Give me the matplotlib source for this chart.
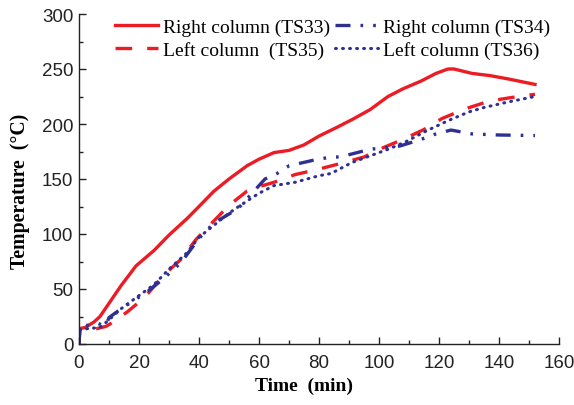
import matplotlib
matplotlib.use("Agg")
import matplotlib.pyplot as plt
from matplotlib.ticker import MultipleLocator

RED = "#ED1C24"
BLUE = "#2E3192"

# right column, TS33
t33 = [0, 0.3, 2, 5, 7, 10, 14, 19, 25, 30, 36, 40, 45, 50, 56, 60, 65, 70, 75, 80,
       86, 91, 97, 103, 108, 114, 119, 123, 125, 131, 137, 143, 152]
T33 = [0, 14, 15, 20, 25, 37, 53, 71, 85, 99, 114, 125, 139, 150, 162, 168, 174, 176, 181, 189,
       197, 204, 213, 225, 232, 239, 246, 250, 250, 246, 244, 241, 236]

# right column, TS34
t34 = [0, 0.3, 3, 6, 8, 9, 10, 12, 14, 18, 23, 28, 34, 37, 40, 45, 53, 59, 62, 66,
       70, 78, 84, 87, 97, 107, 114, 119, 124, 131, 140, 152]
T34 = [0, 17, 17, 19, 17, 17, 24, 28, 32, 39, 48, 59, 74, 85, 96, 110, 123, 141, 150, 155,
       162, 167, 170, 170, 177, 180, 186, 191, 194.5, 191, 190, 189.5]

# left column, TS35
t35 = [0, 0.3, 3, 6, 9, 12, 16, 20, 23, 28, 34, 39, 45, 50, 56, 60, 65, 72, 80, 87,
       95, 101, 108, 115, 121, 129, 137, 144, 152]
T35 = [0, 14, 14, 14, 16, 21, 29, 38, 46, 62, 77, 95, 112, 126, 139, 143, 147, 154, 159, 164,
       170, 178, 186, 195, 205, 214, 221, 224, 227]

# left column, TS36
t36 = [0, 0.3, 3, 7, 10, 14, 19, 25, 30, 36, 40, 45, 50, 56, 60, 65, 72, 80, 84, 91,
       97, 103, 109, 116, 123, 130, 135, 143, 152]
T36 = [0, 13, 14, 15, 22, 32, 42, 54, 68, 83, 97, 108, 119, 130, 137, 144, 147, 153, 155, 165,
       171, 177, 184, 194, 203, 211, 215, 220, 225]

SERIF = "Liberation Serif"
SANS = "Liberation Sans"

fig = plt.figure(figsize=(5.74, 4.06), dpi=100)
ax = fig.add_axes([79/574, 61/406, 480/574, 330/406])

ax.plot(t33, T33, color=RED, lw=2.4, label="Right column (TS33)")
ax.plot(t35, T35, color=RED, lw=2.4, dashes=(5, 4.5), label="Left column  (TS35)")
ax.plot(t34, T34, color=BLUE, lw=2.4, dashes=(4.5, 3, 0.8, 3, 0.8, 3),
        label="Right column (TS34)")
ax.plot(t36, T36, color=BLUE, lw=2.2, dashes=(0.3, 2.0), dash_capstyle="round",
        label="Left column (TS36)")

ax.set_xlim(0, 160)
ax.set_ylim(0, 300)
ax.xaxis.set_major_locator(MultipleLocator(20))
ax.xaxis.set_minor_locator(MultipleLocator(10))
ax.yaxis.set_major_locator(MultipleLocator(50))
ax.yaxis.set_minor_locator(MultipleLocator(25))
ax.tick_params(which="both", direction="in", width=1, colors="#222222")
ax.tick_params(which="major", length=5, labelsize=13.5)
ax.tick_params(axis="x", which="major", pad=7)
ax.tick_params(axis="y", which="major", pad=4)
ax.tick_params(which="minor", length=3)
for lab in ax.get_xticklabels() + ax.get_yticklabels():
    lab.set_fontfamily(SANS)
for s in ("top", "right"):
    ax.spines[s].set_visible(False)
for s in ("left", "bottom"):
    ax.spines[s].set_color("#222222")
    ax.spines[s].set_linewidth(1)

ax.set_xlabel("Time  (min)", fontfamily=SERIF, fontweight="bold", fontsize=14)
ax.set_ylabel("Temperature  (\u00b0C)", fontfamily=SERIF, fontweight="bold", fontsize=14.2)
ax.xaxis.set_label_coords(0.468, -0.10)
ax.yaxis.set_label_coords(-0.102, 0.467)

ax.legend(loc="upper left", bbox_to_anchor=(0.075, 0.986), ncol=2, frameon=False,
          prop={"family": SERIF, "size": 14}, handlelength=2.2, handletextpad=0.26,
          columnspacing=0.26, labelspacing=0.26, borderpad=0, borderaxespad=0)

fig.savefig("out.png", dpi=100)
